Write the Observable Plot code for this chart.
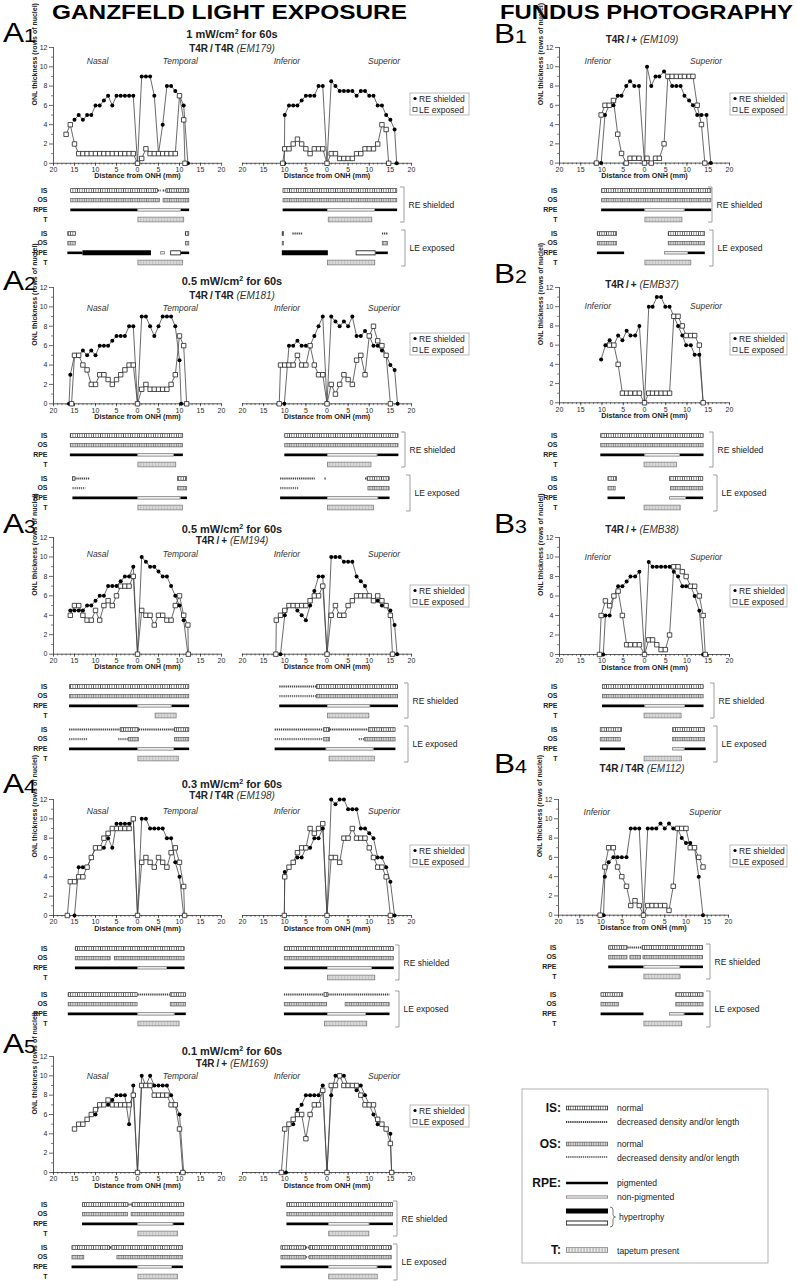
<!DOCTYPE html>
<html><head><meta charset="utf-8">
<script src="https://cdn.jsdelivr.net/npm/d3@7"></script>
<script src="https://cdn.jsdelivr.net/npm/@observablehq/plot@0.6"></script>
<style>
body{margin:0;background:#fff;}
#root{position:relative;width:797px;height:1282px;overflow:hidden;font-family:"Liberation Sans",Arial,sans-serif;background:#fff;}
#root svg{position:absolute;overflow:visible;}
</style></head><body><div id="root"></div><script>
// ---------- text / tick data ----------
const HEADS = ["GANZFELD LIGHT EXPOSURE", "FUNDUS PHOTOGRAPHY"];
const X_TITLE = "Distance from ONH (mm)";
const Y_TITLE = "ONL thickness (rows of nuclei)";
const X_MAJOR = [-20, -15, -10, -5, 0, 5, 10, 15, 20];
const X_MINOR = d3.range(-20, 21, 1);
const Y_MAJOR = [0, 2, 4, 6, 8, 10, 12];
const Y_MINOR = [1, 3, 5, 7, 9, 11];
const NASAL_TEMPORAL = ["Nasal", "Temporal"];
const INF_SUP = ["Inferior", "Superior"];
const SERIES = ["RE shielded", "LE exposed"];
const A_POWER = ["1", "0.5", "0.5", "0.3", "0.1"];
const A_GENO = ["T4R\u2009/\u2009T4R ", "T4R\u2009/\u2009T4R ", "T4R\u2009/\u2009+ ", "T4R\u2009/\u2009T4R ", "T4R\u2009/\u2009+ "];
const A_ID = ["(EM179)", "(EM181)", "(EM194)", "(EM198)", "(EM169)"];
const B_GENO = ["T4R\u2009/\u2009+ ", "T4R\u2009/\u2009+ ", "T4R\u2009/\u2009+ ", "T4R\u2009/\u2009T4R "];
const B_ID = ["(EM109)", "(EMB37)", "(EMB38)", "(EM112)"];
const ROW_LABELS = [["RE","IS"],["RE","OS"],["RE","RPE"],["RE","T"],["LE","IS"],["LE","OS"],["LE","RPE"],["LE","T"]];

// ---------- ONL thickness series [distance mm (neg = nasal/inferior), rows] ----------
const A1L_RE = [[-15,4.5],[-14,5],[-13,4.5],[-12,5],[-11,5],[-10,6],[-9,6],[-8,6.5],[-7,7],[-6,6],[-5,7],[-4,7],[-3,7],[-2,7],[-1,7],[0,0],[1,9],[2,9],[3,9],[4,7],[5,1],[6,4],[7,8],[8,8],[9,7.5],[10,7],[11,6],[12,0]];
const A1L_LE = [[-17,3],[-16,4],[-15,2],[-14,1],[-13,1],[-12,1],[-11,1],[-10,1],[-9,1],[-8,1],[-7,1],[-6,1],[-5,1],[-4,1],[-3,1],[-2,1],[-1,1],[0,0],[1,0.5],[2,1.5],[3,1],[4,1],[5,1],[6,1],[7,1],[8,1],[9,1],[10,7],[11,4.5],[11.3,0]];
const A1R_RE = [[-10.1,0],[-10,5],[-9,6],[-8,6],[-7,6],[-6,6.5],[-5,7],[-4,7],[-3,7],[-2,8],[-1,8],[0,0],[1,8.5],[2,8],[3,7.5],[4,7.5],[5,7.5],[6,7.5],[7,7],[8,7.5],[9,7.5],[10,7],[11,7],[12,6],[13,6],[14,5],[15,4.5],[16,3.5],[16.5,0]];
const A1R_LE = [[-10.5,0],[-10,1.5],[-9,1.5],[-8,2],[-7,2.5],[-6,2],[-5,1.5],[-4,1],[-3,1.5],[-2,1.5],[-1,1.5],[0,0],[1,1],[2,1],[3,0.5],[4,0.5],[5,0.5],[6,0.5],[7,1],[8,1],[9,1.5],[10,1.5],[11,1.5],[12,2],[13,4],[14,3.5],[14.6,0]];
const A2L_RE = [[-16.3,0],[-16,3],[-15,5],[-14,5],[-13,5.5],[-12,5],[-11,5.5],[-10,5],[-9,6],[-8,6],[-7,6],[-6,6.5],[-5,7],[-4,7],[-3,7],[-2,8],[-1,8],[0,0],[1,9],[2,9],[3,8],[4,7],[5,8],[6,9],[7,9],[8,9],[9,8],[10,4.5],[10.4,0]];
const A2L_LE = [[-15.7,0],[-15,5],[-14,5],[-13,4],[-12,3.5],[-11,2],[-10,2],[-9,3],[-8,3],[-7,2.5],[-6,2],[-5,2.5],[-4,3],[-3,3.5],[-2,4],[-1,4],[0,0],[1,1.5],[2,2],[3,1.5],[4,1.5],[5,1.5],[6,1.5],[7,1.5],[8,2],[9,3],[10,7],[11,6],[11.7,0]];
const A2R_RE = [[-10.1,0],[-9,6],[-8,6],[-7,6.5],[-6,6],[-5,6],[-4,6],[-3,7],[-2,8],[-1,9],[0,0],[1,9],[2,8.5],[3,8],[4,8.5],[5,8],[6,9],[7,7],[8,7],[9,7.5],[10,7],[11,6],[12,6],[13,5.5],[14,5],[15,4],[16,3.5],[16.7,0]];
const A2R_LE = [[-11.3,0],[-11,4],[-10,4],[-9,4],[-8,4],[-7,5],[-6,4],[-5,4],[-4,6],[-3,4],[-2,3],[-1,3],[0,0],[1,2],[2,1],[3,2],[4,3],[5,2.5],[6,2],[7,4.5],[8,5],[9,3],[10,7],[11,8],[12,6.5],[13,6],[14,5],[15,0]];
const A3L_RE = [[-16,4.5],[-15,4.5],[-14,4.5],[-13,4.5],[-12,5],[-11,5],[-10,5.5],[-9,6],[-8,6],[-7,7],[-6,7],[-5,7],[-4,7.5],[-3,8],[-2,8],[-1,9],[0,0],[1,10],[2,9.5],[3,9],[4,9],[5,8.5],[6,8],[7,8],[8,7],[9,6],[10,5],[11,3.5],[12,0]];
const A3L_LE = [[-16,4],[-15,5],[-14,5],[-13,4],[-12,3.5],[-11,3.5],[-10,4.5],[-9,3.5],[-8,5],[-7,5.5],[-6,5],[-5,6],[-4,7],[-3,7],[-2,7],[-1,8],[0,0],[1,4.5],[2,4],[3,4],[4,3],[5,4],[6,4],[7,3.5],[8,3.5],[9,5],[10,6],[11,4],[12,3],[12.1,0]];
const A3R_RE = [[-11,0],[-10,4],[-9,5],[-8,5],[-7,4.5],[-6,4],[-5,3.5],[-4,5],[-3,6.5],[-2,8],[-1,8],[0,0],[1,10],[2,10],[3,10],[4,9.5],[5,9.5],[6,9.5],[7,8],[8,7.5],[9,7],[10,6],[11,5.5],[12,5.5],[13,5],[14,5],[15,4.5],[16,3],[16.6,0]];
const A3R_LE = [[-12.1,0],[-12,3.5],[-11,4],[-10,4.5],[-9,5],[-8,5],[-7,5],[-6,5],[-5,5],[-4,5.5],[-3,6],[-2,6],[-1,7],[0,0],[1,4],[2,5],[3,4],[4,4],[5,5],[6,5.5],[7,6],[8,6],[9,6],[10,6],[11,5.5],[12,6],[13,5.5],[14,5],[15,4],[15.5,0]];
const A4L_RE = [[-15,0],[-14,5],[-13,5],[-12,5],[-11,6],[-10,7],[-9,7],[-8,7],[-7,8],[-6,7],[-5,9.5],[-4,9.5],[-3,9.5],[-2,9.5],[-1,10],[0,0],[1,10],[2,10],[3,9],[4,9],[5,9],[6,9],[7,8],[8,8],[9,5.5],[10,4],[11,0]];
const A4L_LE = [[-16.7,0],[-16,3.5],[-15,3.5],[-14,4],[-13,4],[-12,5],[-11,6],[-10,7],[-9,7],[-8,8],[-7,8.5],[-6,9],[-5,9],[-4,9],[-3,9],[-2,9],[-1,10],[0,0],[1,5.5],[2,6],[3,5.5],[4,5],[5,6],[6,5.5],[7,5],[8,6.5],[9,7],[10,5.5],[11,3],[11.2,0]];
const A4R_RE = [[-10.1,0],[-10,4.5],[-9,5],[-8,5.5],[-7,6],[-6,6],[-5,7],[-4,7],[-3,8],[-2,8],[-1,9],[0,0],[1,12],[2,11.5],[3,12],[4,12],[5,11],[6,11],[7,11],[8,9],[9,9],[10,8.5],[11,8],[12,6],[13,6],[14,5],[15,3.5],[16,0]];
const A4R_LE = [[-10.1,0],[-10,4],[-9,5],[-8,5.5],[-7,6.5],[-6,7],[-5,7],[-4,9],[-3,8.5],[-2,9],[-1,9.5],[0,0],[1,6],[2,6],[3,5.5],[4,8],[5,8],[6,9],[7,8],[8,8],[9,8],[10,7],[11,6],[12,5],[13,5],[14,4],[15,0]];
const A5L_RE = [[-13,5],[-12,5.5],[-11,6],[-10,6],[-9,7],[-8,7],[-7,7],[-6,7.5],[-5,8],[-4,8],[-3,8],[-2,5],[-1,9],[0,0],[1,10],[2,9],[3,10],[4,9],[5,9],[6,9],[7,9],[8,8],[9,7],[10,6],[11,0]];
const A5L_LE = [[-15,4.5],[-14,5],[-13,5],[-12,5.5],[-11,6],[-10,6.5],[-9,7],[-8,7],[-7,7.5],[-6,7],[-5,7],[-4,7],[-3,7],[-2,7],[-1,8],[0,0],[1,9],[2,9],[3,9],[4,8],[5,8],[6,8],[7,8],[8,7],[9,7],[10,4.5],[10.8,0]];
const A5R_RE = [[-9.7,0],[-9,5],[-8,5],[-7,6.5],[-6,7],[-5,8],[-4,8],[-3,8],[-2,8],[-1,9],[0,0],[1,8],[2,10],[3,10],[4,10],[5,9],[6,9],[7,8.5],[8,9],[9,8],[10,7],[11,6],[12,5],[13,5],[14,4.5],[15,4],[15.3,0]];
const A5R_LE = [[-10.8,0],[-10,4.5],[-9,5],[-8,5.5],[-7,6],[-6,6],[-5,3.5],[-4,6],[-3,7],[-2,7],[-1,8.5],[0,0],[1,9],[2,9],[3,10],[4,9],[5,9],[6,9],[7,9],[8,8],[9,7],[10,7],[11,7],[12,5.5],[13,5],[14,4.5],[15,3],[15.3,0]];
const B1_RE = [[-10.2,0],[-9.3,5],[-8.3,6],[-7.3,6],[-6.3,7],[-5.4,7],[-4.3,8],[-3.4,8.5],[-2.4,8],[-1.3,8],[0,0],[0.6,10],[1.6,8],[2.6,9],[3.5,9],[4.6,9.5],[5.5,9],[6.5,8],[7.5,8],[8.5,8],[9.4,7],[10.5,6.5],[11.4,6],[12.4,5],[13.4,5],[14.6,5],[15.6,0]];
const B1_LE = [[-11.3,0],[-10.2,5],[-9.3,6],[-8.3,6],[-7.3,6.5],[-6.3,3],[-5.4,1],[-4.3,0],[-3.4,0.5],[-2.4,0.5],[-1.3,0.5],[0,0],[0.6,0.5],[1.6,0],[2.6,0.5],[3.5,0.5],[4.6,2],[5.5,9],[6.5,9],[7.5,9],[8.5,9],[9.4,9],[10.5,9],[11.4,9],[12.4,6],[13.4,4],[14.2,0]];
const B2_RE = [[-10.2,4.5],[-9.2,6],[-8.2,6.5],[-7.2,6],[-6.2,7],[-5.2,6.5],[-4.2,7.5],[-3.3,7],[-2.2,7],[-1.2,8],[0,0],[1,10],[1.9,10],[2.9,11],[3.9,11],[4.9,10],[5.9,10],[7.9,8],[8.9,7],[9.8,6],[10.9,6],[11.8,5],[12.9,5],[13.8,0]];
const B2_LE = [[-8.2,6],[-7.2,6],[-6.2,4],[-5.2,1],[-4.2,1],[-3.3,1],[-2.2,1],[-1.2,1],[0,0],[1,1],[1.9,1],[2.9,1],[3.9,1],[4.9,1],[5.9,1],[6.9,9],[7.9,9],[8.9,8],[9.8,7],[10.9,7],[11.8,7],[12.9,6],[13.8,0]];
const B3_RE = [[-9.7,0],[-9.2,4],[-8.2,4],[-7.2,6],[-6.2,7],[-5.2,7],[-4.2,7.5],[-3.3,8],[-2.2,8],[-1.2,8.5],[0,0],[1,9.5],[1.9,9],[2.9,9],[3.9,9],[4.9,9],[5.9,9],[6.9,8.5],[7.9,8],[8.9,7],[9.8,7],[10.9,7],[11.8,6],[12.9,4.5],[13.8,0]];
const B3_LE = [[-10.6,0],[-10.2,4],[-9.2,5.5],[-8.2,5],[-7.2,6],[-6.2,6.5],[-5.2,4],[-4.2,1],[-3.3,1],[-2.2,1],[-1.2,1],[0,0],[1,1.5],[1.9,1.5],[2.9,1],[3.9,0.5],[4.9,0.5],[5.9,2],[6.9,9],[7.9,9],[8.9,8.5],[9.8,8],[10.9,7],[11.8,7],[12.9,6],[13.8,4],[14.3,0]];
const B4_RE = [[-9.4,0],[-9.1,4],[-8.2,5.5],[-7.1,6],[-6.1,6],[-5.1,6],[-4,6],[-3,9],[-2,9],[-1,9],[0,0],[1,9],[2,9],[3,9],[4,9.5],[5,9],[6,9.5],[7,9],[8,9],[9,8],[10,7.5],[11,7.5],[12,7],[13,4],[14,0]];
const B4_LE = [[-10.2,0],[-9.1,5],[-8.2,7],[-7.1,7],[-6.1,5],[-5.1,4],[-4,3],[-3,1],[-2,1.5],[-1,1],[0,0],[1,1],[2,1],[3,1],[4,1],[5,1],[6,0.5],[7,3],[8,9],[9,9],[10,9],[11,7],[12,7],[13,6],[14,5]];

// ---------- retinal layer segments [eye, layer, from mm, to mm, state] ----------
// states: n normal, d decreased, p pigmented, np non-pigmented, hp hypertrophy pigmented, hn hypertrophy non-pigmented, t tapetum
const A1L_BARS = [["RE","IS",-16,4.8,"n"],["RE","IS",4.8,5.5,"d"],["RE","IS",6,6.7,"d"],["RE","IS",6.7,12.3,"n"],["RE","OS",-16,5.3,"n"],["RE","OS",6,12.3,"n"],["RE","RPE",-16,0,"p"],["RE","RPE",0,10.3,"np"],["RE","RPE",10.3,12.3,"p"],["RE","T",0,11.1,"t"],
["LE","IS",-16.7,-14.7,"n"],["LE","IS",11.3,12.3,"n"],["LE","OS",-16.7,-14.7,"n"],["LE","OS",11.3,12.3,"n"],["LE","RPE",-16.7,-13.1,"p"],["LE","RPE",-13.1,3.2,"hp"],["LE","RPE",5.4,6.5,"np"],["LE","RPE",7.8,10.3,"hn"],["LE","RPE",10.3,12.3,"p"],["LE","T",0,10.8,"t"]];
const A1R_BARS = [["RE","IS",-10.5,16.6,"n"],["RE","OS",-10.5,16.6,"n"],["RE","RPE",-10.5,0,"p"],["RE","RPE",0,11.3,"np"],["RE","RPE",11.3,16.6,"p"],["RE","T",0.2,10.7,"t"],
["LE","IS",-10.7,-10.2,"n"],["LE","IS",-8.2,-5.8,"d"],["LE","IS",13,14.4,"d"],["LE","OS",-10.7,-10.2,"n"],["LE","OS",13,14.4,"n"],["LE","RPE",-10.7,0.2,"hp"],["LE","RPE",6.8,11.5,"hn"],["LE","RPE",11.5,14.4,"p"],["LE","T",0,11.4,"t"]];
const A2L_BARS = [["RE","IS",-16.1,10.8,"n"],["RE","OS",-16.1,10.8,"n"],["RE","RPE",-16.1,0,"p"],["RE","RPE",0,8.6,"np"],["RE","RPE",8.6,10.8,"p"],["RE","T",0,9.2,"t"],
["LE","IS",-15.6,-14.8,"n"],["LE","IS",-14.8,-11.4,"d"],["LE","IS",9.4,11.8,"n"],["LE","OS",-15.5,-12.4,"d"],["LE","OS",9.4,11.8,"n"],["LE","RPE",-15.5,0,"p"],["LE","RPE",0,10.2,"np"],["LE","RPE",10.2,11.8,"p"],["LE","T",0,10.8,"t"]];
const A2R_BARS = [["RE","IS",-10.1,16.9,"n"],["RE","OS",-10.1,16.9,"n"],["RE","RPE",-10.1,0,"p"],["RE","RPE",0,11.9,"np"],["RE","RPE",11.9,16.9,"p"],["RE","T",0,10.5,"t"],
["LE","IS",-11.1,-2.9,"d"],["LE","IS",-0.6,-0.2,"d"],["LE","IS",9,9.4,"d"],["LE","IS",9.4,14.8,"n"],["LE","OS",-11.1,-6.8,"d"],["LE","OS",9.6,14.8,"n"],["LE","RPE",-11.1,0,"p"],["LE","RPE",0,12.1,"np"],["LE","RPE",12.1,14.8,"p"],["LE","T",0,11.1,"t"]];
const A3L_BARS = [["RE","IS",-16.3,12.3,"n"],["RE","OS",-16.3,12.3,"n"],["RE","RPE",-16.3,0,"p"],["RE","RPE",0,8.1,"np"],["RE","RPE",8.1,12.3,"p"],["RE","T",4.1,9.3,"t"],
["LE","IS",-16.3,-4.2,"d"],["LE","IS",-4.2,0.3,"n"],["LE","IS",0.3,8.7,"d"],["LE","IS",8.7,12.3,"n"],["LE","OS",-16.3,-12,"d"],["LE","OS",-4.6,-2.3,"d"],["LE","OS",-2.3,0.3,"n"],["LE","OS",8.7,12.3,"n"],["LE","RPE",-16.3,0,"p"],["LE","RPE",0,8.7,"np"],["LE","RPE",8.7,12.3,"p"],["LE","T",0,9.8,"t"]];
const A3R_BARS = [["RE","IS",-11.3,-2.6,"d"],["RE","IS",-2.6,16.8,"n"],["RE","OS",-11.3,-2.6,"d"],["RE","OS",-2.6,16.8,"n"],["RE","RPE",-11.3,0,"p"],["RE","RPE",0,10.2,"np"],["RE","RPE",10.2,16.8,"p"],["RE","T",0,10,"t"],
["LE","IS",-12.4,-0.9,"d"],["LE","IS",-0.9,0.7,"n"],["LE","IS",0.7,9.7,"d"],["LE","IS",9.7,16.2,"n"],["LE","OS",-12.4,-0.9,"d"],["LE","OS",-0.9,0.7,"n"],["LE","OS",7.5,8.8,"d"],["LE","OS",8.8,16.2,"n"],["LE","RPE",-12.4,-0.3,"p"],["LE","RPE",-0.3,11,"np"],["LE","RPE",11,16.2,"p"],["LE","T",0.4,11.3,"t"]];
const A4L_BARS = [["RE","IS",-14.9,11.2,"n"],["RE","OS",-14.9,-6.4,"n"],["RE","OS",-5.6,11.2,"n"],["RE","RPE",-14.9,0,"p"],["RE","RPE",0,7,"np"],["RE","RPE",7,11.2,"p"],
["LE","IS",-16.6,0,"n"],["LE","IS",0,7.7,"d"],["LE","IS",7.7,11.5,"n"],["LE","OS",-16.6,0,"n"],["LE","OS",7.7,11.5,"n"],["LE","RPE",-16.6,0,"p"],["LE","RPE",0,8.8,"np"],["LE","RPE",8.8,11.5,"p"],["LE","T",0,10,"t"]];
const A4R_BARS = [["RE","IS",-10.2,15.8,"n"],["RE","OS",-10.2,15.8,"n"],["RE","RPE",-10.2,0,"p"],["RE","RPE",0,10.6,"np"],["RE","RPE",10.6,15.8,"p"],["RE","T",0,11.4,"t"],
["LE","IS",-10.2,-0.8,"d"],["LE","IS",-0.8,0.3,"n"],["LE","IS",0.3,14.8,"d"],["LE","OS",-10.2,0,"n"],["LE","OS",4.2,14.8,"n"],["LE","RPE",-10.2,0,"p"],["LE","RPE",0,9.2,"np"],["LE","RPE",9.2,14.8,"p"],["LE","T",-0.7,9.5,"t"]];
const A5L_BARS = [["RE","IS",-13.2,-2.2,"n"],["RE","IS",-2.2,-1.4,"d"],["RE","IS",-1.4,11.1,"n"],["RE","OS",-13.2,-2.3,"n"],["RE","OS",-1.6,11.1,"n"],["RE","RPE",-13.2,0,"p"],["RE","RPE",0,8.5,"np"],["RE","RPE",8.5,11.1,"p"],["RE","T",0,9.6,"t"],
["LE","IS",-15.7,-6.6,"n"],["LE","IS",-6.6,-6.2,"d"],["LE","IS",-6.2,10.8,"n"],["LE","OS",-15.7,-12.7,"n"],["LE","OS",-5,10.8,"n"],["LE","RPE",-15.7,0,"p"],["LE","RPE",0,8.2,"np"],["LE","RPE",8.2,10.8,"p"],["LE","T",0,9.6,"t"]];
const A5R_BARS = [["RE","IS",-9.6,15.6,"n"],["RE","OS",-9.6,15.6,"n"],["RE","RPE",-9.6,0.3,"p"],["RE","RPE",0.3,10,"np"],["RE","RPE",10,15.6,"p"],["RE","T",0.3,10,"t"],
["LE","IS",-11,-5,"n"],["LE","IS",-5,-4.3,"d"],["LE","IS",-4.3,15.3,"n"],["LE","OS",-11,-5,"n"],["LE","OS",-5,-4.3,"d"],["LE","OS",-4.3,15.3,"n"],["LE","RPE",-11,0.3,"p"],["LE","RPE",0.3,11.9,"np"],["LE","RPE",11.9,15.3,"p"],["LE","T",0.3,12,"t"]];
const B1_BARS = [["RE","IS",-10.2,15.7,"n"],["RE","OS",-10.2,15.7,"n"],["RE","RPE",-10.2,0,"p"],["RE","RPE",0,9.4,"np"],["RE","RPE",9.4,15.7,"p"],["RE","T",0,8.9,"t"],
["LE","IS",-11.2,-6.5,"n"],["LE","IS",5.5,14.2,"n"],["LE","OS",-11.2,-6.5,"n"],["LE","OS",5.5,14.2,"n"],["LE","RPE",-11.2,-4.8,"p"],["LE","RPE",4.6,10.2,"np"],["LE","RPE",10.2,14.2,"p"],["LE","T",0,11,"t"]];
const B2_BARS = [["RE","IS",-10.4,13.9,"n"],["RE","OS",-10.4,13.9,"n"],["RE","RPE",-10.4,0,"p"],["RE","RPE",0,8.3,"np"],["RE","RPE",8.3,13.9,"p"],["RE","T",-0.2,7.6,"t"],
["LE","IS",-8.7,-6.5,"n"],["LE","IS",5.8,13.8,"n"],["LE","OS",-8.7,-6.8,"n"],["LE","OS",6,13.8,"n"],["LE","RPE",-8.7,-4.6,"p"],["LE","RPE",5.8,9.7,"np"],["LE","RPE",9.7,13.8,"p"],["LE","T",-0.2,8.5,"t"]];
const B3_BARS = [["RE","IS",-10,13.9,"n"],["RE","OS",-10,13.9,"n"],["RE","RPE",-10,0,"p"],["RE","RPE",0,9.5,"np"],["RE","RPE",9.5,13.9,"p"],["RE","T",-0.2,8.7,"t"],
["LE","IS",-10.5,-5.3,"n"],["LE","IS",6.5,14.2,"n"],["LE","OS",-10.5,-5.6,"n"],["LE","OS",6.5,14.2,"n"],["LE","RPE",-10.5,-4.6,"p"],["LE","RPE",6.5,9.4,"np"],["LE","RPE",9.4,14.4,"p"],["LE","T",-0.2,8.8,"t"]];
const B4_BARS = [["RE","IS",-8.3,-3.8,"n"],["RE","IS",-3.8,-0.4,"d"],["RE","IS",-0.4,14,"n"],["RE","OS",-8.3,-3.8,"n"],["RE","OS",-3.3,-0.6,"n"],["RE","OS",-0.2,14,"n"],["RE","RPE",-8.3,0,"p"],["RE","RPE",0,8.6,"np"],["RE","RPE",8.6,14,"p"],["RE","T",0,8.7,"t"],
["LE","IS",-10.1,-4.8,"n"],["LE","IS",7.5,14.1,"n"],["LE","OS",-10.1,-5.8,"n"],["LE","OS",7.5,14.1,"n"],["LE","RPE",-10.1,0,"p"],["LE","RPE",6,9.6,"np"],["LE","RPE",9.6,14.1,"p"],["LE","T",0,9.1,"t"]];

// ---------- styles ----------
const STYLE = {
  "IS:n": [{s:"#333", w:4.4}, {s:"url(#isN)", w:2.8, inset:0.7}],
  "IS:d": [{s:"#444", w:2.2, dash:"1.3,0.8"}],
  "OS:n": [{s:"#666", w:4.4}, {s:"url(#osN)", w:2.8, inset:0.7}],
  "OS:d": [{s:"#777", w:2.2, dash:"1.3,0.8"}],
  "RPE:p": [{s:"#000", w:2.6}],
  "RPE:np": [{s:"#777", w:3.2}, {s:"#eee", w:1.6, inset:0.7}],
  "RPE:hp": [{s:"#000", w:5}],
  "RPE:hn": [{s:"#222", w:5}, {s:"#fff", w:3.2, inset:0.8}],
  "T:t": [{s:"#808080", w:5.6}, {s:"url(#tP)", w:4, inset:0.8}]
};
const ROW_INDEX = {IS:0, OS:1, RPE:2, T:3};
const FONT = "'Liberation Sans', Arial, sans-serif";

const root = document.getElementById("root");
const defs = d3.select(root).append("svg").attr("width",1).attr("height",1).style("left","0px").style("top","0px").append("defs");
function pattern(id, w, bg, fg, lw) {
  const p = defs.append("pattern").attr("id", id).attr("patternUnits","userSpaceOnUse").attr("width", w).attr("height", 20);
  p.append("rect").attr("width", w).attr("height", 20).attr("fill", bg);
  p.append("rect").attr("width", lw).attr("height", 20).attr("fill", fg);
}
pattern("isN", 2.3, "#fff", "#444", 0.7);
pattern("osN", 2.3, "#d2d2d2", "#777", 0.6);
pattern("tP", 3, "#c2c2c2", "#e8e8e8", 1.2);

function place(svg, left, top) {
  svg.style.position = "absolute";
  svg.style.left = left + "px";
  svg.style.top = top + "px";
  root.appendChild(svg);
}
const baseStyle = {background: "transparent", overflow: "visible", fontFamily: FONT, fontSize: "7px", color: "#2a2a2a"};

function drawChart(S) {
  const ml = 50, mr = 12, mt = 6, mb = 24;
  const fw = S.xR - S.xL, fh = S.y0 - S.y12;
  const px = d => d[0], py = d => d[1];
  const marks = [];
  if (S.yAxis) marks.push(
    Plot.ruleX([-20], {stroke: "#333", strokeWidth: 0.8}),
    Plot.axisY({ticks: Y_MINOR, tickSize: 2, tickFormat: () => "", strokeWidth: 0.6, label: null}),
    Plot.axisY({ticks: Y_MAJOR, tickSize: 4, tickPadding: 2, strokeWidth: 0.7, label: null}),
    Plot.text([Y_TITLE], {frameAnchor: "left", rotate: -90, dx: -18.5, fontWeight: "bold", fontSize: 7, fill: "#222"})
  );
  marks.push(
    Plot.ruleY([0], {stroke: "#333", strokeWidth: 0.8}),
    Plot.axisX({ticks: X_MINOR, tickSize: 1.8, tickFormat: () => "", strokeWidth: 0.6, label: null}),
    Plot.axisX({ticks: X_MAJOR, tickSize: 3, tickPadding: 1, tickFormat: d => String(Math.abs(d)), strokeWidth: 0.7, label: null}),
    Plot.text([X_TITLE], {frameAnchor: "bottom", dy: 15, fontWeight: "bold", fontSize: 7.3, fill: "#222"}),
    Plot.text(S.regions, {x: (d, i) => S.regionX[i], y: () => S.regionY, text: d => d, fontStyle: "italic", fontSize: 8.5, fill: "#333"}),
    Plot.line(S.re, {x: px, y: py, stroke: "#444", strokeWidth: 0.8}),
    Plot.line(S.le, {x: px, y: py, stroke: "#444", strokeWidth: 0.8}),
    Plot.dot(S.re, {x: px, y: py, r: 2, fill: "#000"}),
    Plot.dot(S.le, {x: px, y: py, symbol: "square", r: 2.5, fill: "#fff", stroke: "#222", strokeWidth: 0.8})
  );
  const svg = Plot.plot({
    width: ml + fw + mr, height: mt + fh + mb,
    marginLeft: ml, marginRight: mr, marginTop: mt, marginBottom: mb,
    x: {domain: [-20, 20]},
    y: S.yAxis ? {domain: [0, 12]} : {domain: [0, 12], axis: null},
    style: baseStyle,
    marks
  });
  place(svg, S.xL - ml, S.y12 - mt);
}

function drawBars(S) {
  const ml = 50, mr = 12, mt = 6, mb = 6;
  const fw = S.xR - S.xL;
  const step = 9.67;
  const gap = (S.leTop - S.reTop) / step;
  const span = 3 + gap;
  const yOf = d => ROW_INDEX[d[1]] + (d[0] === "LE" ? gap : 0);
  const mmPerPx = 40 / fw;
  const marks = [];
  for (const key of Object.keys(STYLE)) {
    const [row, kind] = key.split(":");
    const sub = S.bars.filter(d => d[1] === row && d[4] === kind);
    if (!sub.length) continue;
    for (const L of STYLE[key]) {
      const ins = (L.inset || 0) * mmPerPx;
      marks.push(Plot.link(sub, {x1: d => d[2] + ins, x2: d => d[3] - ins, y1: yOf, y2: yOf, stroke: L.s, strokeWidth: L.w, strokeDasharray: L.dash}));
    }
  }
  if (S.labelDx != null) marks.push(Plot.text(ROW_LABELS, {x: () => -20, y: yOf, text: d => d[1], textAnchor: "end", dx: S.labelDx, fontWeight: "bold", fontSize: 7, fill: "#222"}));
  const svg = Plot.plot({
    width: ml + fw + mr, height: mt + span * step + mb,
    marginLeft: ml, marginRight: mr, marginTop: mt, marginBottom: mb,
    x: {domain: [-20, 20], axis: null},
    y: {domain: [0, span], range: [mt, mt + span * step], axis: null},
    style: baseStyle,
    marks
  });
  place(svg, S.xL - ml, S.reTop - mt);
}

// ---------- layout of the panels ----------
const AL = {xL: 53, xR: 221, yAxis: true, regions: NASAL_TEMPORAL, regionX: [-9.5, 10.2], labelDx: -6};
const AR = {xL: 242, xR: 411, yAxis: false, regions: INF_SUP, regionX: [-9.5, 13.5]};
const BB = {xL: 559, xR: 729, yAxis: true, regions: INF_SUP, regionX: [-11, 14.5], labelDx: -2};
const ROWS_A = [
  {y12: 46.5, y0: 162.3, rY: 10.6, reTop: 190, leTop: 233, title: 38, sub: 51.5, lab: 42, leg: 93, br: [404, 405]},
  {y12: 287, y0: 403.3, rY: 9.9, reTop: 435, leTop: 478, title: 285, sub: 299, lab: 290, leg: 333, br: [405, 410]},
  {y12: 537.3, y0: 654, rY: 10.3, reTop: 686, leTop: 729, title: 533, sub: 544, lab: 533, leg: 585, br: [408, 408]},
  {y12: 799, y0: 915, rY: 10.8, reTop: 948, leTop: 994, title: 788, sub: 799, lab: 793, leg: 845, br: [399, 399]},
  {y12: 1055.7, y0: 1171.7, rY: 10, reTop: 1204, leTop: 1247, title: 1055, sub: 1067, lab: 1053, leg: 1105, br: [397, 397]}
];
const ROWS_B = [
  {y12: 46.7, y0: 162.3, rY: 10.6, reTop: 190, leTop: 233, sub: 43, lab: 43, leg: 93, br: [712, 713], xL: 559, xR: 729},
  {y12: 287, y0: 402.3, rY: 10, reTop: 435, leTop: 478, sub: 288, lab: 283, leg: 333, br: [713, 717], xL: 559, xR: 729},
  {y12: 537, y0: 654, rY: 10, reTop: 686, leTop: 729, sub: 533, lab: 533, leg: 585, br: [714, 717], xL: 559, xR: 729},
  {y12: 799.3, y0: 915, rY: 10.7, reTop: 947, leTop: 994, sub: 772, lab: 773, leg: 845, br: [710, 710], xL: 558, xR: 728}
];
const A_DATA = [
  [A1L_RE, A1L_LE, A1L_BARS, A1R_RE, A1R_LE, A1R_BARS],
  [A2L_RE, A2L_LE, A2L_BARS, A2R_RE, A2R_LE, A2R_BARS],
  [A3L_RE, A3L_LE, A3L_BARS, A3R_RE, A3R_LE, A3R_BARS],
  [A4L_RE, A4L_LE, A4L_BARS, A4R_RE, A4R_LE, A4R_BARS],
  [A5L_RE, A5L_LE, A5L_BARS, A5R_RE, A5R_LE, A5R_BARS]
];
const B_DATA = [[B1_RE, B1_LE, B1_BARS], [B2_RE, B2_LE, B2_BARS], [B3_RE, B3_LE, B3_BARS], [B4_RE, B4_LE, B4_BARS]];

// ---------- overlay (titles, labels, legends, brackets) ----------
const ov = d3.select(root).append("svg").attr("width", 797).attr("height", 1282).style("left","0px").style("top","0px")
  .style("font-family", FONT).attr("fill", "#222");

ov.append("text").attr("x", 52).attr("y", 18.5).attr("textLength", 355).attr("lengthAdjust", "spacingAndGlyphs")
  .style("font-size", "20px").style("font-weight", "bold").attr("fill", "#000").text(HEADS[0]);
ov.append("text").attr("x", 500).attr("y", 18.5).attr("textLength", 293).attr("lengthAdjust", "spacingAndGlyphs")
  .style("font-size", "20px").style("font-weight", "bold").attr("fill", "#000").text(HEADS[1]);

function panelLabel(x, y, letter, num) {
  const t = ov.append("text").attr("x", x).attr("y", y).attr("fill", "#000").attr("textLength", 33).attr("lengthAdjust", "spacingAndGlyphs");
  t.append("tspan").style("font-size", "28px").text(letter);
  t.append("tspan").style("font-size", "19px").text(num);
}
function genotype(x, y, geno, id) {
  const t = ov.append("text").attr("x", x).attr("y", y).attr("text-anchor", "middle").style("font-size", "10px");
  t.append("tspan").style("font-weight", "bold").text(geno);
  t.append("tspan").style("font-style", "italic").attr("fill", "#333").text(id);
}
function powerTitle(x, y, p) {
  const t = ov.append("text").attr("x", x).attr("y", y).attr("text-anchor", "middle").style("font-size", "11px").style("font-weight", "bold");
  t.append("tspan").text(p + " mW/cm");
  t.append("tspan").attr("dy", -4).style("font-size", "7px").text("2");
  t.append("tspan").attr("dy", 4).text(" for 60s");
}
function smallLegend(x, y, w) {
  const g = ov.append("g");
  g.append("rect").attr("x", x).attr("y", y).attr("width", w).attr("height", 22).attr("fill", "#fff").attr("stroke", "#aaa").attr("stroke-width", 0.8);
  g.append("circle").attr("cx", x + 5).attr("cy", y + 5.5).attr("r", 1.6).attr("fill", "#000");
  g.append("rect").attr("x", x + 3).attr("y", y + 14.5).attr("width", 4).attr("height", 4).attr("fill", "#fff").attr("stroke", "#222").attr("stroke-width", 0.7);
  g.append("text").attr("x", x + 9).attr("y", y + 8.5).style("font-size", "8.5px").text(SERIES[0]);
  g.append("text").attr("x", x + 9).attr("y", y + 19.5).style("font-size", "8.5px").text(SERIES[1]);
}
function bracket(x, y1, y2, label) {
  ov.append("path").attr("d", `M${x - 4},${y1}H${x}V${y2}H${x - 4}`).attr("fill", "none").attr("stroke", "#888").attr("stroke-width", 0.8);
  ov.append("text").attr("x", x + 4.5).attr("y", (y1 + y2) / 2 + 3).style("font-size", "8.5px").text(label);
}

ROWS_A.forEach((R, k) => {
  const [lre, lle, lbars, rre, rle, rbars] = A_DATA[k];
  drawChart({...AL, y12: R.y12, y0: R.y0, regionY: R.rY, re: lre, le: lle});
  drawBars({...AL, reTop: R.reTop, leTop: R.leTop, bars: lbars});
  drawChart({...AR, y12: R.y12, y0: R.y0, regionY: R.rY, re: rre, le: rle});
  drawBars({...AR, reTop: R.reTop, leTop: R.leTop, bars: rbars});
  panelLabel(3, R.lab, "A", String(k + 1));
  powerTitle(232, R.title, A_POWER[k]);
  genotype(232, R.sub, A_GENO[k], A_ID[k]);
  smallLegend(410, R.leg, 59);
  bracket(R.br[0], R.reTop - 3, R.reTop + 32, SERIES[0]);
  bracket(R.br[1], R.leTop - 3, R.leTop + 33, SERIES[1]);
});
ROWS_B.forEach((R, k) => {
  const [re, le, bars] = B_DATA[k];
  drawChart({...BB, xL: R.xL, xR: R.xR, y12: R.y12, y0: R.y0, regionY: R.rY, re, le});
  drawBars({...BB, xL: R.xL, xR: R.xR, reTop: R.reTop, leTop: R.leTop, bars});
  panelLabel(494, R.lab, "B", String(k + 1));
  genotype(642, R.sub, B_GENO[k], B_ID[k]);
  smallLegend(730, R.leg, 57);
  bracket(R.br[0], R.reTop - 3, R.reTop + 32, SERIES[0]);
  bracket(R.br[1], R.leTop - 3, R.leTop + 33, SERIES[1]);
});

// ---------- key box ----------
const KEY_HEADS = ["IS:", "OS:", "RPE:", "T:"];
const KEY_TEXT = ["normal", "decreased density and/or length", "normal", "decreased density and/or length", "pigmented", "non-pigmented", "hypertrophy", "tapetum present"];
const key = ov.append("g");
key.append("rect").attr("x", 522).attr("y", 1089).attr("width", 246).attr("height", 174).attr("fill", "#fff").attr("stroke", "#aaa").attr("stroke-width", 0.9);
[[1112, 0], [1148, 1], [1187, 2], [1254, 3]].forEach(([y, i]) =>
  key.append("text").attr("x", 561).attr("y", y).attr("text-anchor", "end").style("font-size", "12px").style("font-weight", "bold").attr("fill", "#111").text(KEY_HEADS[i]));
function sample(k, y) {
  for (const L of STYLE[k]) {
    const ins = L.inset || 0;
    key.append("line").attr("x1", 566 + ins).attr("x2", 608 - ins).attr("y1", y).attr("y2", y)
      .attr("stroke", L.s).attr("stroke-width", L.w).attr("stroke-dasharray", L.dash || null);
  }
}
sample("IS:n", 1108); sample("IS:d", 1122); sample("OS:n", 1144); sample("OS:d", 1157);
sample("RPE:p", 1183); sample("RPE:np", 1197); sample("RPE:hp", 1211); sample("RPE:hn", 1223); sample("T:t", 1250);
[[1111, 0], [1125, 1], [1147, 2], [1161, 3], [1186, 4], [1200, 5], [1254, 7]].forEach(([y, i]) =>
  key.append("text").attr("x", 617).attr("y", y).style("font-size", "8.6px").text(KEY_TEXT[i]));
key.append("path").attr("d", "M610,1207q3,0 3,3v4.5q0,2.5 2.5,2.5q-2.5,0 -2.5,2.5v4.5q0,3 -3,3").attr("fill", "none").attr("stroke", "#444").attr("stroke-width", 0.7);
key.append("text").attr("x", 619).attr("y", 1220).style("font-size", "8.6px").text(KEY_TEXT[6]);
</script></body></html>
